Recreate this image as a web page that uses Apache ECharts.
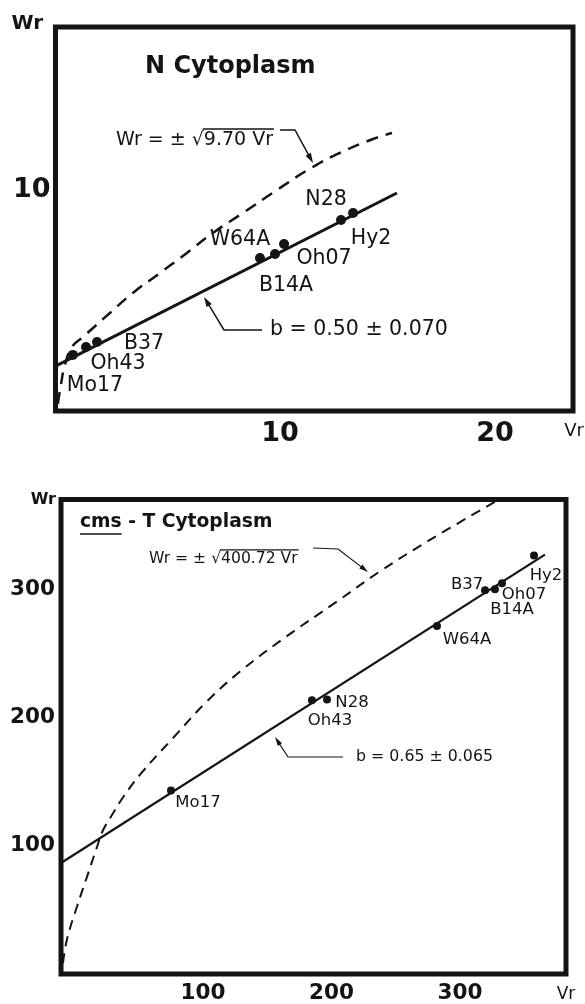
<!DOCTYPE html>
<html><head><meta charset="utf-8">
<script src="https://cdn.jsdelivr.net/npm/echarts@6/dist/echarts.min.js"></script>
<style>html,body{margin:0;padding:0;background:#fff}#c{width:585px;height:1004px}</style>
</head><body><div id="c"></div>
<script>
// ---------- N Cytoplasm (top) ----------
const nNames = ['Mo17', 'Oh43', 'B37', 'W64A', 'B14A', 'Oh07', 'N28', 'Hy2'];
const nVr = [0.37, 0.98, 1.49, 9.07, 9.77, 10.19, 12.84, 13.40];
const nWr = [2.33, 2.70, 2.93, 6.84, 7.02, 7.49, 8.60, 8.93];
const nFitVr = [-0.44, 15.44];
const nFitWr = [1.81, 9.86];
const nCurveVr = [-0.33, -0.19, 0.0, 0.33, 0.84, 2.09, 3.16, 4.42, 5.67, 6.88, 8.28, 9.86, 11.53, 12.93, 14.33, 15.21];
const nCurveWr = [0.05, 0.93, 1.86, 2.70, 3.16, 4.28, 5.21, 6.14, 7.07, 8.00, 8.93, 10.00, 11.07, 11.79, 12.37, 12.65];
const nXTicks = [10, 20];
const nYTicks = [10];

// ---------- cms - T Cytoplasm (bottom) ----------
const tNames = ['Mo17', 'Oh43', 'N28', 'W64A', 'B37', 'B14A', 'Oh07', 'Hy2'];
const tVr = [75.1, 184.8, 196.5, 282.1, 319.5, 327.2, 332.7, 357.6];
const tWr = [143.1, 213.5, 214.2, 271.5, 299.3, 300.1, 304.7, 326.4];
const tFitVr = [-10.5, 366.1];
const tFitWr = [86.6, 327.1];
const tCurveVr = [-8.95, -5.84, 1.95, 9.73, 17.5, 22.2, 30.0, 37.7, 51.0, 76.7, 103.1, 128.8, 162.3, 203.5, 237.7, 274.3, 329.6];
const tCurveWr = [8.5, 27.1, 52.6, 75.8, 99.0, 112.1, 125.3, 137.7, 155.5, 184.1, 212.7, 235.9, 261.4, 290.0, 314.0, 337.2, 369.7];
const tXTicks = [100, 200, 300];
const tYTicks = [100, 200, 300];

// ---------- layout (label offsets, pixels) ----------
const nLabelOffset = [[22, 31], [32, 17], [47, 2], [-20, -18], [11, 32], [40, 15], [-15, -20], [18, 26]];
const tLabelOffset = [[27, 12], [18, 20], [25, 3], [30, 14], [-18, -6], [17, 20], [22, 11], [12, 20]];

const FONT = '"DejaVu Sans", sans-serif';
const INK = '#141414';

const zip = (a, b) => a.map((v, i) => [v, b[i]]);
const pts = (names, xs, ys, offs) => xs.map((v, i) => ({ value: [v, ys[i]], name: names[i], label: { offset: offs[i] } }));

const cv = document.createElement('canvas').getContext('2d');
function tw(str, size, weight) { cv.font = `${weight} ${size}px ${FONT}`; return cv.measureText(str).width; }

function txt(x, y, str, size, weight, align) {
  return { type: 'text', x: x, y: y, z: 10,
    style: { text: str, fill: INK, font: `${weight} ${size}px ${FONT}`, align: align || 'left', verticalAlign: 'middle' } };
}
function seg(x1, y1, x2, y2, w) {
  return { type: 'line', z: 10, shape: { x1, y1, x2, y2 }, style: { stroke: INK, lineWidth: w } };
}
function arrow(p, w, hl, hw) {
  const n = p.length, a = p[n - 2], b = p[n - 1];
  const dx = b[0] - a[0], dy = b[1] - a[1], L = Math.hypot(dx, dy), ux = dx / L, uy = dy / L;
  const bx = b[0] - ux * hl, by = b[1] - uy * hl;
  const line = p.slice(0, n - 1).concat([[bx + ux, by + uy]]);
  return [
    { type: 'polyline', z: 10, shape: { points: line }, style: { stroke: INK, lineWidth: w, fill: null } },
    { type: 'polygon', z: 10, shape: { points: [b, [bx - uy * hw / 2, by + ux * hw / 2], [bx + uy * hw / 2, by - ux * hw / 2]] }, style: { fill: INK } }
  ];
}
function formula(x, y, size, weight, pre, rad, w) {
  const w1 = tw(pre, size, weight), w2 = tw(rad, size, weight);
  return [
    txt(x, y, pre, size, weight),
    txt(x + w1, y, rad, size, weight),
    seg(x + w1 - 1, y - size * 0.58, x + w1 + w2 + 1, y - size * 0.58, w)
  ];
}

const graphic = [].concat(
  [txt(43, 24, 'Wr', 20, 'bold', 'right')],
  [txt(145, 67, 'N Cytoplasm', 24, 'bold')],
  formula(116, 140, 19, 'normal', 'Wr = ± √', '9.70 Vr', 1.5),
  arrow([[280, 130], [295, 130], [313, 163]], 1.5, 10, 6),
  [txt(270, 330, 'b = 0.50 ± 0.070', 20.5, 'normal')],
  arrow([[262, 330], [224, 330], [204, 297]], 1.5, 10, 6),
  [txt(574, 431, 'Vr', 18, 'normal', 'center')],

  [txt(56, 500, 'Wr', 16, 'bold', 'right')],
  [txt(80, 522, 'cms - T Cytoplasm', 18.7, 'bold')],
  [seg(80, 534, 80 + tw('cms', 18.7, 'bold'), 534, 1.5)],
  formula(149, 559, 15.6, 'normal', 'Wr = ± √', '400.72 Vr', 1.2),
  arrow([[313, 548], [338, 549], [368, 572]], 1.2, 9, 5),
  [txt(356, 757, 'b = 0.65 ± 0.065', 15.8, 'normal')],
  arrow([[343, 757], [288, 757], [275, 737]], 1.2, 9, 5),
  [txt(566, 995, 'Vr', 17, 'normal', 'center')]
);

const axisCommon = { type: 'value', splitLine: { show: false }, axisLine: { show: false }, axisTick: { show: false } };

const chart = echarts.init(document.getElementById('c'), null, { renderer: 'canvas' });
chart.setOption({
  animation: false,
  backgroundColor: '#fff',
  grid: [
    { left: 55.5, top: 27, width: 517.5, height: 384, show: true, borderColor: INK, borderWidth: 5, backgroundColor: 'transparent' },
    { left: 61, top: 499.5, width: 505, height: 478.5, show: true, borderColor: INK, borderWidth: 5, backgroundColor: 'transparent' }
  ],
  xAxis: [
    Object.assign({}, axisCommon, { gridIndex: 0, min: -0.44, max: 23.63,
      axisLabel: { customValues: nXTicks, margin: 9, fontSize: 27, fontWeight: 'bold', fontFamily: FONT, color: INK } }),
    Object.assign({}, axisCommon, { gridIndex: 1, min: -10.5, max: 382.5,
      axisLabel: { customValues: tXTicks, margin: 8, fontSize: 21.5, fontWeight: 'bold', fontFamily: FONT, color: INK } })
  ],
  yAxis: [
    Object.assign({}, axisCommon, { gridIndex: 0, min: -0.28, max: 17.58,
      axisLabel: { customValues: nYTicks, margin: 5, fontSize: 27, fontWeight: 'bold', fontFamily: FONT, color: INK } }),
    Object.assign({}, axisCommon, { gridIndex: 1, min: 0, max: 370.1,
      axisLabel: { customValues: tYTicks, margin: 6, fontSize: 21.5, fontWeight: 'bold', fontFamily: FONT, color: INK } })
  ],
  series: [
    { type: 'line', xAxisIndex: 0, yAxisIndex: 0, data: zip(nCurveVr, nCurveWr), smooth: 0.5, showSymbol: false,
      lineStyle: { color: INK, width: 2.5, type: [12, 8] }, z: 2 },
    { type: 'line', xAxisIndex: 0, yAxisIndex: 0, data: zip(nFitVr, nFitWr), showSymbol: false,
      lineStyle: { color: INK, width: 3 }, z: 2 },
    { type: 'scatter', xAxisIndex: 0, yAxisIndex: 0, data: pts(nNames, nVr, nWr, nLabelOffset), symbolSize: 10,
      itemStyle: { color: INK, opacity: 1 }, z: 3,
      label: { show: true, position: 'inside', formatter: '{b}', color: INK, fontSize: 20.5, fontFamily: FONT, align: 'center', verticalAlign: 'middle' } },

    { type: 'line', xAxisIndex: 1, yAxisIndex: 1, data: zip(tCurveVr, tCurveWr), smooth: 0.4, showSymbol: false,
      lineStyle: { color: INK, width: 2, type: [10, 7] }, z: 2 },
    { type: 'line', xAxisIndex: 1, yAxisIndex: 1, data: zip(tFitVr, tFitWr), showSymbol: false,
      lineStyle: { color: INK, width: 2.2 }, z: 2 },
    { type: 'scatter', xAxisIndex: 1, yAxisIndex: 1, data: pts(tNames, tVr, tWr, tLabelOffset), symbolSize: 8,
      itemStyle: { color: INK, opacity: 1 }, z: 3,
      label: { show: true, position: 'inside', formatter: '{b}', color: INK, fontSize: 16.5, fontFamily: FONT, align: 'center', verticalAlign: 'middle' } }
  ],
  graphic: graphic
});
</script></body></html>
